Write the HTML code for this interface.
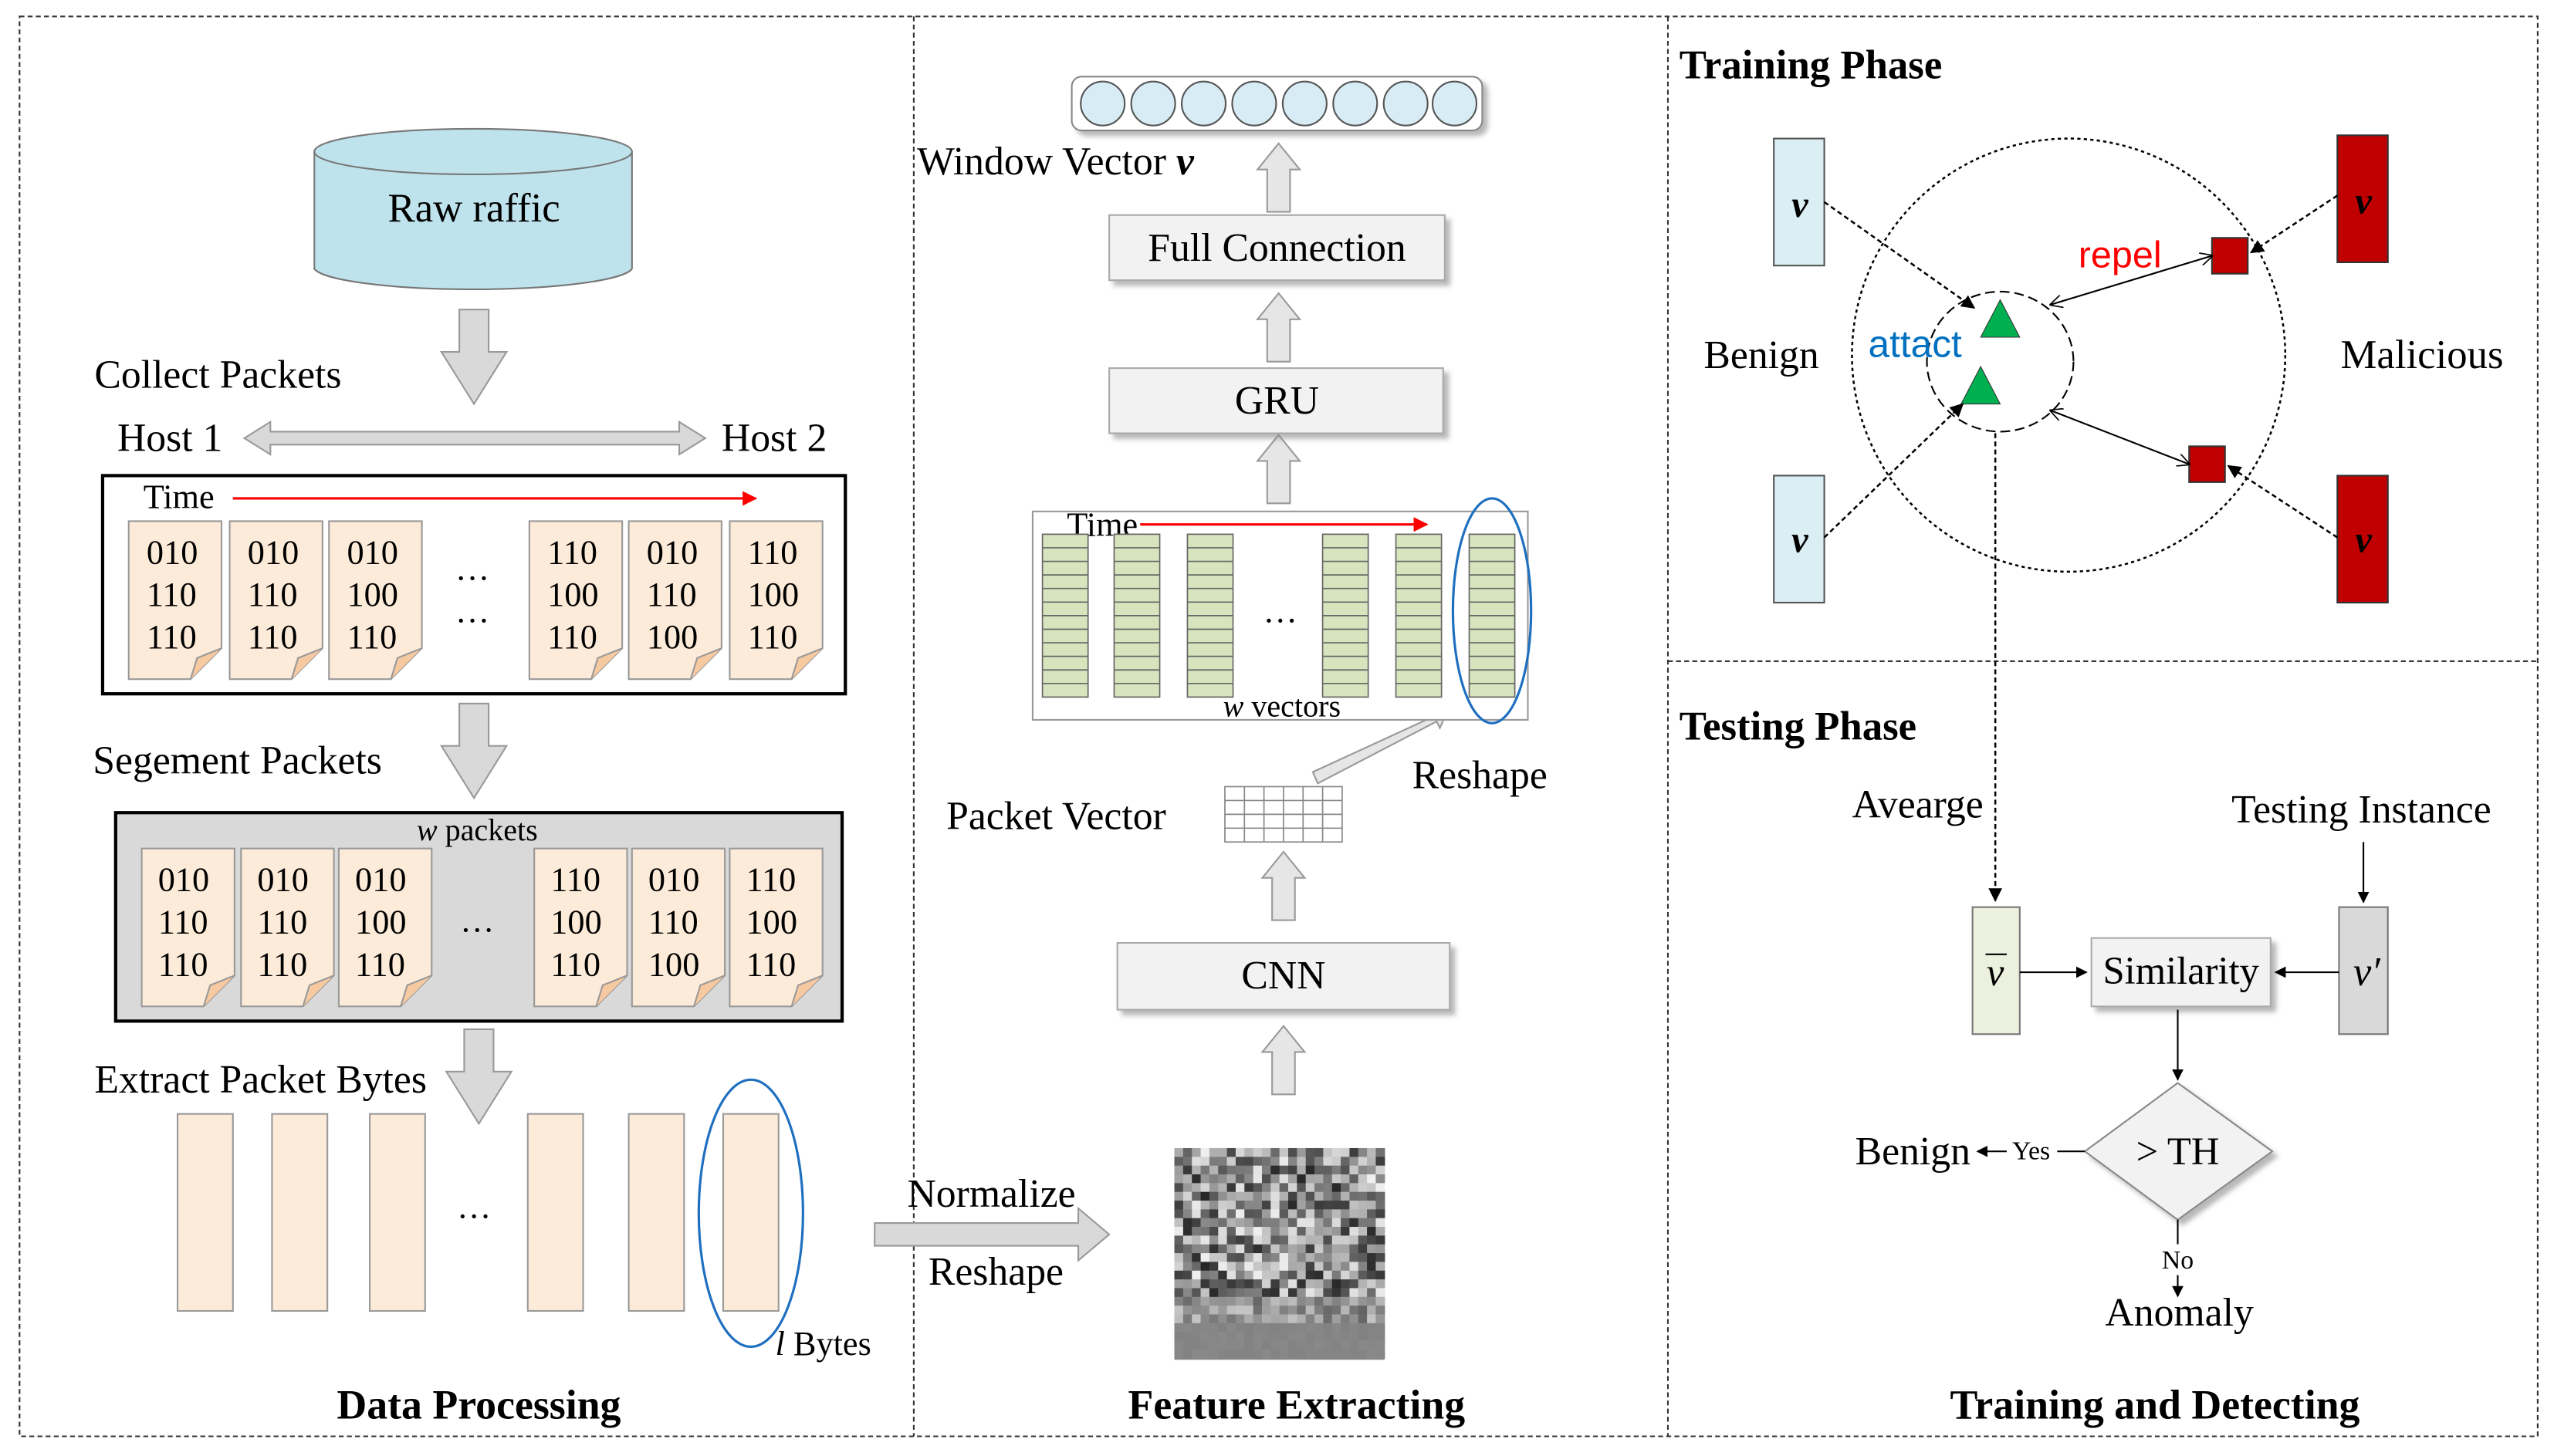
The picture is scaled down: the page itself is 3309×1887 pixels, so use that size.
<!DOCTYPE html>
<html><head><meta charset="utf-8">
<style>
html,body{margin:0;padding:0;background:#fff;}
svg{display:block;}
text{font-family:"Liberation Serif",serif;fill:#000;}
.s{font-family:"Liberation Sans",sans-serif;}
</style></head>
<body>
<svg width="3309" height="1887" viewBox="0 0 1568 894" xmlns="http://www.w3.org/2000/svg">
<defs>
<marker id="ah" viewBox="0 0 10 10" refX="9" refY="5" markerWidth="7" markerHeight="7" orient="auto-start-reverse"><path d="M0,0 L10,5 L0,10 z" fill="#000"/></marker>
<marker id="ao" viewBox="0 0 10 10" refX="9" refY="5" markerWidth="8" markerHeight="8" orient="auto-start-reverse"><path d="M0,0 L10,5 L0,10" fill="none" stroke="#000" stroke-width="1"/></marker>
<marker id="ar" viewBox="0 0 10 10" refX="9" refY="5" markerWidth="6" markerHeight="6" orient="auto"><path d="M0,0 L10,5 L0,10 z" fill="#f00"/></marker>
<filter id="sh" x="-10%" y="-10%" width="130%" height="140%"><feDropShadow dx="3" dy="3" stdDeviation="1.5" flood-color="#888" flood-opacity="0.6"/></filter>
<g id="paper"><path d="M0,0 H57 V78 L38,97 H0 Z" fill="#fdebd9" stroke="#999" stroke-width="1"/><path d="M38,97 L42,84 L57,78" fill="#f7c9a0" stroke="#999" stroke-width="1"/></g>
<g id="dn"><path d="M-9,0 H9 V26 H20 L0,58 L-20,26 H-9 Z" fill="#d9d9d9" stroke="#999" stroke-width="1"/></g>
<g id="up"><path d="M-7,42 H7 V16 H13 L0,0 L-13,16 H-7 Z" fill="#e6e6e6" stroke="#999" stroke-width="1"/></g>
</defs>

<g fill="none" stroke="#333" stroke-width="1" stroke-dasharray="3,2">
<rect x="12" y="10" width="1546" height="872"/>
<line x1="561" y1="10" x2="561" y2="882"/>
<line x1="1024" y1="10" x2="1024" y2="882"/>
<line x1="1024" y1="406" x2="1558" y2="406"/>
</g>

<!-- DATA PROCESSING -->
<path d="M193,93 V165 A98,14 0 0 0 388,165 V93" fill="#bfe3ec" stroke="#777"/>
<ellipse cx="290.5" cy="93" rx="97.5" ry="14" fill="#bfe3ec" stroke="#777"/>
<text x="291" y="136" font-size="25" text-anchor="middle">Raw raffic</text>
<use href="#dn" x="291" y="190"/>
<text x="58" y="238" font-size="24.5">Collect Packets</text>
<text x="72" y="277" font-size="24.5">Host 1</text>
<text x="443" y="277" font-size="24.5">Host 2</text>
<path d="M150,269 L166,259 V265 H417 V259 L433,269 L417,279 V273 H166 V279 Z" fill="#d9d9d9" stroke="#999"/>
<rect x="63" y="292" width="456" height="134" fill="#fff" stroke="#000" stroke-width="2"/>
<text x="88" y="312" font-size="21">Time</text>
<line x1="143" y1="306" x2="464" y2="306" stroke="#f00" stroke-width="1.5" marker-end="url(#ar)"/>
<g font-size="21">
<use href="#paper" x="79" y="320"/><use href="#paper" x="141" y="320"/><use href="#paper" x="202" y="320"/>
<use href="#paper" x="325" y="320"/><use href="#paper" x="386" y="320"/><use href="#paper" x="448" y="320"/>
<text x="90" y="346">010</text><text x="90" y="372">110</text><text x="90" y="398">110</text>
<text x="152" y="346">010</text><text x="152" y="372">110</text><text x="152" y="398">110</text>
<text x="213" y="346">010</text><text x="213" y="372">100</text><text x="213" y="398">110</text>
<text x="336" y="346">110</text><text x="336" y="372">100</text><text x="336" y="398">110</text>
<text x="397" y="346">010</text><text x="397" y="372">110</text><text x="397" y="398">100</text>
<text x="459" y="346">110</text><text x="459" y="372">100</text><text x="459" y="398">110</text>
<text x="290" y="356" text-anchor="middle">…</text><text x="290" y="382" text-anchor="middle">…</text>
</g>
<use href="#dn" x="291" y="432"/>
<text x="57" y="475" font-size="24.5">Segement Packets</text>
<rect x="71" y="499" width="446" height="128" fill="#d9d9d9" stroke="#000" stroke-width="2"/>
<text x="293" y="516" font-size="19" text-anchor="middle"><tspan font-style="italic">w</tspan> packets</text>
<g font-size="21">
<use href="#paper" x="87" y="521"/><use href="#paper" x="148" y="521"/><use href="#paper" x="208" y="521"/>
<use href="#paper" x="328" y="521"/><use href="#paper" x="388" y="521"/><use href="#paper" x="448" y="521"/>
<text x="97" y="547">010</text><text x="97" y="573">110</text><text x="97" y="599">110</text>
<text x="158" y="547">010</text><text x="158" y="573">110</text><text x="158" y="599">110</text>
<text x="218" y="547">010</text><text x="218" y="573">100</text><text x="218" y="599">110</text>
<text x="338" y="547">110</text><text x="338" y="573">100</text><text x="338" y="599">110</text>
<text x="398" y="547">010</text><text x="398" y="573">110</text><text x="398" y="599">100</text>
<text x="458" y="547">110</text><text x="458" y="573">100</text><text x="458" y="599">110</text>
<text x="293" y="572" text-anchor="middle">…</text>
</g>
<use href="#dn" x="294" y="632"/>
<text x="58" y="671" font-size="24.5">Extract Packet Bytes</text>
<g fill="#fdebd9" stroke="#999">
<rect x="109" y="684" width="34" height="121"/><rect x="167" y="684" width="34" height="121"/><rect x="227" y="684" width="34" height="121"/>
<rect x="324" y="684" width="34" height="121"/><rect x="386" y="684" width="34" height="121"/><rect x="444" y="684" width="34" height="121"/>
</g>
<text x="291" y="748" font-size="21" text-anchor="middle">…</text>
<ellipse cx="461" cy="745" rx="32" ry="82" fill="none" stroke="#1f6fc0" stroke-width="1.5"/>
<text x="476" y="832" font-size="21"><tspan font-style="italic">l</tspan> Bytes</text>
<text x="294" y="871" font-size="25.5" font-weight="bold" text-anchor="middle">Data Processing</text>

<!-- FEATURE EXTRACTING -->
<path d="M537,751 H662 V742 L681,758 L662,774 V765 H537 Z" fill="#d9d9d9" stroke="#999"/>
<text x="557" y="741" font-size="24.5">Normalize</text>
<text x="570" y="789" font-size="24.5">Reshape</text>
<rect x="721" y="705" width="129" height="130" fill="#8a8a8a"/>
<g id="noise"></g>
<use href="#up" x="788" y="630"/>
<rect x="686" y="579" width="204" height="41" fill="#f2f2f2" stroke="#aaa" filter="url(#sh)"/>
<text x="788" y="607" font-size="24.5" text-anchor="middle">CNN</text>
<use href="#up" x="788" y="523"/>
<g stroke="#888" stroke-width="0.8" fill="#fff">
<rect x="752" y="483" width="72" height="34"/>
<path d="M764,483V517M776,483V517M788,483V517M800,483V517M812,483V517M752,491.5H824M752,500H824M752,508.5H824"/>
</g>
<text x="581" y="509" font-size="24.5">Packet Vector</text>
<path d="M806,474 L880,440 L878,435 L888,438 L884,447 L882,443 L809,481 Z" fill="#e6e6e6" stroke="#999"/>
<text x="867" y="484" font-size="24.5">Reshape</text>
<rect x="634" y="314" width="304" height="128" fill="#fff" stroke="#999"/>
<text x="655" y="329" font-size="21">Time</text>
<line x1="700" y1="322" x2="876" y2="322" stroke="#f00" stroke-width="1.5" marker-end="url(#ar)"/>
<g id="strips"></g>
<text x="786" y="382" font-size="21" text-anchor="middle">…</text>
<text x="787" y="440" font-size="19" text-anchor="middle"><tspan font-style="italic">w</tspan> vectors</text>
<ellipse cx="916" cy="375" rx="24" ry="69" fill="none" stroke="#1f6fc0" stroke-width="1.5"/>
<use href="#up" x="785" y="267"/>
<rect x="681" y="226" width="205" height="40" fill="#f2f2f2" stroke="#aaa" filter="url(#sh)"/>
<text x="784" y="254" font-size="24.5" text-anchor="middle">GRU</text>
<use href="#up" x="785" y="180"/>
<rect x="681" y="132" width="206" height="40" fill="#f2f2f2" stroke="#aaa" filter="url(#sh)"/>
<text x="784" y="160" font-size="24.5" text-anchor="middle">Full Connection</text>
<use href="#up" x="785" y="88"/>
<text x="563" y="107" font-size="24.5">Window Vector <tspan font-style="italic" font-weight="bold">v</tspan></text>
<rect x="658" y="47" width="252" height="33" rx="6" fill="#fff" stroke="#888" filter="url(#sh)"/>
<g fill="#d8ecf5" stroke="#555">
<circle cx="677" cy="63.5" r="13.5"/><circle cx="708" cy="63.5" r="13.5"/><circle cx="739" cy="63.5" r="13.5"/><circle cx="770" cy="63.5" r="13.5"/>
<circle cx="801" cy="63.5" r="13.5"/><circle cx="832" cy="63.5" r="13.5"/><circle cx="863" cy="63.5" r="13.5"/><circle cx="893" cy="63.5" r="13.5"/>
</g>
<text x="796" y="871" font-size="25.5" font-weight="bold" text-anchor="middle">Feature Extracting</text>

<!-- TRAINING -->
<text x="1031" y="48" font-size="25" font-weight="bold">Training Phase</text>
<circle cx="1270" cy="218" r="133" fill="none" stroke="#000" stroke-dasharray="2,2" stroke-width="1.2"/>
<ellipse cx="1228" cy="222" rx="45" ry="43" fill="none" stroke="#000" stroke-dasharray="6,3"/>
<rect x="1089" y="85" width="31" height="78" fill="#dbeef4" stroke="#555"/>
<rect x="1089" y="292" width="31" height="78" fill="#dbeef4" stroke="#555"/>
<rect x="1435" y="83" width="31" height="78" fill="#c00000" stroke="#333"/>
<rect x="1435" y="292" width="31" height="78" fill="#c00000" stroke="#333"/>
<g font-size="23" font-style="italic" font-weight="bold" text-anchor="middle">
<text x="1105" y="133">v</text><text x="1105" y="339">v</text><text x="1451" y="131">v</text><text x="1451" y="339">v</text>
</g>
<path d="M1228,184 L1240,207 H1216 Z" fill="#00b050" stroke="#333" stroke-width="0.5"/>
<path d="M1216,225 L1228,248 H1204 Z" fill="#00b050" stroke="#333" stroke-width="0.5"/>
<rect x="1358" y="146" width="22" height="22" fill="#c00000" stroke="#333"/>
<rect x="1344" y="274" width="22" height="22" fill="#c00000" stroke="#333"/>
<g stroke="#000" fill="none" stroke-width="1.2" stroke-dasharray="3,2">
<line x1="1120" y1="124" x2="1212" y2="189" marker-end="url(#ah)"/>
<line x1="1120" y1="330" x2="1205" y2="248" marker-end="url(#ah)"/>
<line x1="1435" y1="120" x2="1382" y2="155" marker-end="url(#ah)"/>
<line x1="1435" y1="330" x2="1368" y2="286" marker-end="url(#ah)"/>
</g>
<line x1="1259" y1="187" x2="1358" y2="157" stroke="#000" marker-start="url(#ao)" marker-end="url(#ao)"/>
<line x1="1259" y1="252" x2="1344" y2="285" stroke="#000" marker-start="url(#ao)" marker-end="url(#ao)"/>
<text x="1276" y="164" font-size="23" class="s" style="fill:#f00">repel</text>
<text x="1147" y="219" font-size="23.5" class="s" style="fill:#0070c0">attact</text>
<text x="1046" y="226" font-size="24.5">Benign</text>
<text x="1437" y="226" font-size="25">Malicious</text>

<!-- TESTING -->
<text x="1031" y="454" font-size="25" font-weight="bold">Testing Phase</text>
<text x="1137" y="502" font-size="24.5">Avearge</text>
<text x="1370" y="505" font-size="24.5">Testing Instance</text>
<line x1="1225" y1="266" x2="1225" y2="553" stroke="#000" stroke-dasharray="3,2" stroke-width="1.2" marker-end="url(#ah)"/>
<line x1="1451" y1="517" x2="1451" y2="554" stroke="#000" marker-end="url(#ah)"/>
<rect x="1211" y="557" width="29" height="78" fill="#ebf1de" stroke="#777"/>
<text x="1225" y="605" font-size="24" font-style="italic" text-anchor="middle">v</text>
<line x1="1219" y1="586" x2="1232" y2="586" stroke="#000"/>
<rect x="1436" y="557" width="30" height="78" fill="#d9d9d9" stroke="#777"/>
<text x="1453" y="605" font-size="25" font-style="italic" text-anchor="middle">v′</text>
<rect x="1284" y="576" width="110" height="42" fill="#f2f2f2" stroke="#aaa" filter="url(#sh)"/>
<text x="1339" y="604" font-size="24" text-anchor="middle">Similarity</text>
<line x1="1240" y1="597" x2="1281" y2="597" stroke="#000" marker-end="url(#ah)"/>
<line x1="1436" y1="597" x2="1397" y2="597" stroke="#000" marker-end="url(#ah)"/>
<line x1="1337" y1="620" x2="1337" y2="663" stroke="#000" marker-end="url(#ah)"/>
<path d="M1337,665 L1395,707 L1337,749 L1280,707 Z" fill="#f2f2f2" stroke="#888" filter="url(#sh)"/>
<text x="1337" y="715" font-size="24" text-anchor="middle">&gt; TH</text>
<line x1="1280" y1="707" x2="1263" y2="707" stroke="#000"/>
<text x="1247" y="712" font-size="16" text-anchor="middle">Yes</text>
<line x1="1232" y1="707" x2="1214" y2="707" stroke="#000" marker-end="url(#ah)"/>
<text x="1139" y="715" font-size="24.5">Benign</text>
<line x1="1337" y1="749" x2="1337" y2="764" stroke="#000"/>
<text x="1337" y="779" font-size="16" text-anchor="middle">No</text>
<line x1="1337" y1="783" x2="1337" y2="796" stroke="#000" marker-end="url(#ah)"/>
<text x="1338" y="814" font-size="24.5" text-anchor="middle">Anomaly</text>
<text x="1323" y="871" font-size="25.5" font-weight="bold" text-anchor="middle">Training and Detecting</text>
</svg>
<script>
(function(){
var NS="http://www.w3.org/2000/svg";
var g=document.getElementById("noise");var s=12345;
function r(){s=(s*1103515245+12345)%2147483648;return s/2147483648;}
var n=24,cw=129/n;
for(var i=0;i<n;i++)for(var j=0;j<n;j++){
 var y=705+i*cw; var v;
 if(y>808){v=130+Math.floor(r()*8);}else if(y>795){v=100+Math.floor(r()*100);}else{v=40+Math.floor(r()*200);}
 var e=document.createElementNS(NS,"rect");e.setAttribute("x",721+j*cw);e.setAttribute("y",y);
 e.setAttribute("width",cw+0.3);e.setAttribute("height",cw+0.3);e.setAttribute("fill","rgb("+v+","+v+","+v+")");g.appendChild(e);}
var st=document.getElementById("strips");var xs=[640,684,729,812,857,902];
xs.forEach(function(x){
 var e=document.createElementNS(NS,"rect");e.setAttribute("x",x);e.setAttribute("y",328);e.setAttribute("width",28);e.setAttribute("height",100);
 e.setAttribute("fill","#d7e4bd");e.setAttribute("stroke","#666");e.setAttribute("stroke-width","0.8");st.appendChild(e);
 for(var k=1;k<12;k++){var l=document.createElementNS(NS,"line");var yy=328+k*100/12;
  l.setAttribute("x1",x);l.setAttribute("x2",x+28);l.setAttribute("y1",yy);l.setAttribute("y2",yy);l.setAttribute("stroke","#666");l.setAttribute("stroke-width","0.8");st.appendChild(l);}
});
})();
</script>
</body></html>
